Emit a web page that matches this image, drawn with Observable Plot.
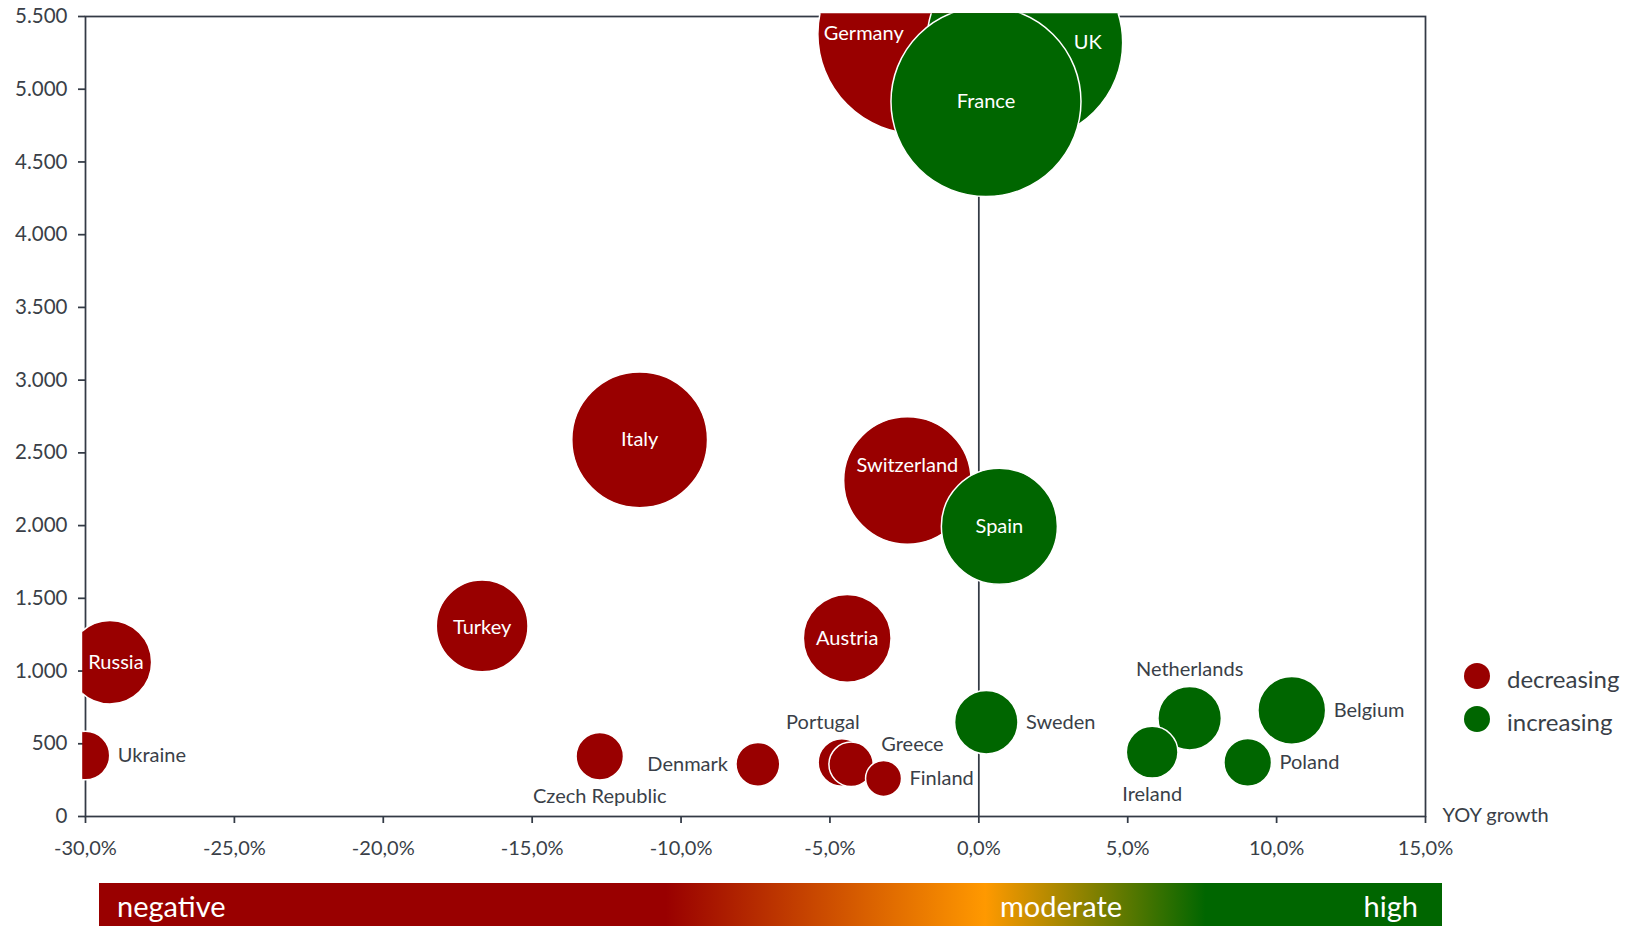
<!DOCTYPE html>
<html>
<head>
<meta charset="utf-8">
<script src="https://cdn.jsdelivr.net/npm/d3@7"></script>
<script src="https://cdn.jsdelivr.net/npm/@observablehq/plot@0.6"></script>
<style>
  html, body { margin: 0; padding: 0; background: #fff; }
  #wrap { position: relative; width: 1643px; height: 926px; overflow: hidden; font-family: Lato, "Open Sans", sans-serif; }
  #chart svg { display: block; }
  .legend { position: absolute; left: 1464px; top: 0; font-size: 24px; color: #3a3f48; }
  .legend .row { position: absolute; left: 0; display: flex; align-items: center; white-space: nowrap; height: 30px; }
  .legend .sw { width: 26px; height: 26px; border-radius: 50%; margin-right: 17px; flex: none; }
  .legend .lbl { position: relative; top: 2px; }
  #scalebar { position: absolute; left: 98.5px; top: 883px; width: 1343.5px; height: 43px; color: #fff; font-size: 29px; }
  #scalebar span { position: absolute; top: 50%; transform: translateY(-50%); line-height: 1; }
</style>
</head>
<body>
<div id="wrap">
  <div id="chart"></div>
  <div class="legend" id="legend"></div>
  <div id="scalebar"></div>
</div>
<script>
// ---- data ----
const countries = ["Germany", "UK", "France", "Italy", "Switzerland", "Spain", "Turkey", "Austria", "Russia",
  "Belgium", "Netherlands", "Sweden", "Ireland", "Ukraine", "Poland", "Czech Republic", "Portugal", "Greece", "Denmark", "Finland"];
// YOY growth in %
const growth = [-2.05, 1.54, 0.24, -11.39, -2.40, 0.69, -16.68, -4.42, -29.18,
  10.51, 7.08, 0.25, 5.82, -30.0, 9.03, -12.73, -4.60, -4.29, -7.42, -3.20];
// vertical value
const volume = [5380, 5320, 4915, 2590, 2310, 1995, 1310, 1225, 1060,
  730, 676, 648, 442, 419, 372, 414, 371, 359, 359, 262];
// bubble size value
const bubbleSize = [5400, 5190, 4880, 2490, 2195, 1820, 1137, 1040, 940,
  620, 545, 543, 361, 317, 306, 304, 304, 266, 259, 175];

const xTicks = [-30, -25, -20, -15, -10, -5, 0, 5, 10, 15];
const yTicks = [0, 500, 1000, 1500, 2000, 2500, 3000, 3500, 4000, 4500, 5000, 5500];
const trendLabels = ["decreasing", "increasing"];
const trendColors = ["#990000", "#006600"];
const scaleLabels = ["negative", "moderate", "high"];
const xLabel = "YOY growth";

// ---- layout / style ----
const axisColor = "#333a45";
const textColor = "#3a3f48";
const W = 1643, H = 883;
const M = { left: 85, right: 218, top: 16, bottom: 67 };
const rDomain = [0, 10000], rRange = [0, 136];
const rPx = d3.scaleSqrt(rDomain, rRange);

const labelLayout = {
  "Germany": { pos: "center", dx: -54 },
  "UK": { pos: "center", dx: 63 },
  "France": { pos: "center" },
  "Italy": { pos: "center" },
  "Switzerland": { pos: "center", dy: -15 },
  "Spain": { pos: "center" },
  "Turkey": { pos: "center", dy: 2 },
  "Austria": { pos: "center" },
  "Russia": { pos: "center", dx: 6 },
  "Belgium": { pos: "right" },
  "Netherlands": { pos: "above" },
  "Sweden": { pos: "right" },
  "Ireland": { pos: "below" },
  "Ukraine": { pos: "right" },
  "Poland": { pos: "right" },
  "Czech Republic": { pos: "below" },
  "Portugal": { pos: "above", dx: -19 },
  "Greece": { pos: "right", dy: -20 },
  "Denmark": { pos: "left" },
  "Finland": { pos: "right" }
};

const data = countries.map((c, i) => ({
  country: c, growth: growth[i], volume: volume[i], size: bubbleSize[i],
  trend: growth[i] < 0 ? trendLabels[0] : trendLabels[1]
}));

const fmtX = d => (d < 0 ? "-" : "") + Math.abs(d).toFixed(1).replace(".", ",") + "%";
const fmtY = d => d3.format(",")(d).replace(/,/g, ".");

const labelMarks = data.map(d => {
  const L = labelLayout[d.country] || { pos: "center" };
  const r = rPx(d.size);
  let dx = L.dx || 0, dy = L.dy || 0, anchor = "middle", fill = "#ffffff";
  if (L.pos === "right") { dx += r + 8; anchor = "start"; fill = textColor; }
  else if (L.pos === "left") { dx -= r + 8; anchor = "end"; fill = textColor; }
  else if (L.pos === "above") { dy -= r + 16.5; fill = textColor; }
  else if (L.pos === "below") { dy += r + 17; fill = textColor; }
  return Plot.text([d], { x: "growth", y: "volume", text: "country", dx, dy, textAnchor: anchor, fill, fontSize: 20 });
});

const chart = Plot.plot({
  width: W, height: H,
  marginLeft: M.left, marginRight: M.right, marginTop: M.top, marginBottom: M.bottom,
  x: { domain: [xTicks[0], xTicks[xTicks.length - 1]] },
  y: { domain: [yTicks[0], yTicks[yTicks.length - 1]] },
  r: { type: "sqrt", domain: rDomain, range: rRange },
  color: { domain: trendLabels, range: trendColors },
  style: { fontFamily: "Lato, 'Open Sans', sans-serif", color: textColor, background: "transparent", overflow: "visible" },
  marks: [
    Plot.frame({ stroke: axisColor, strokeWidth: 1.75 }),
    Plot.ruleX([0], { stroke: axisColor, strokeWidth: 1.75 }),
    Plot.axisX({ ticks: xTicks, tickSize: 7, tickPadding: 17, tickFormat: fmtX, fontSize: 20, label: null, stroke: axisColor, strokeWidth: 1.75 }),
    Plot.axisY({ ticks: yTicks, tickSize: 7, tickPadding: 11, tickFormat: fmtY, fontSize: 20.5, label: null, stroke: axisColor, strokeWidth: 1.75 }),
    Plot.dot(data, { x: "growth", y: "volume", r: "size", fill: "trend", stroke: "#ffffff", strokeWidth: 1.5 }),
    ...labelMarks,
    Plot.text([xLabel], { x: () => xTicks[xTicks.length - 1], y: () => yTicks[0], text: d => d, dx: 17, dy: -1, textAnchor: "start", fill: textColor, fontSize: 20 })
  ]
});

// clip bubbles to a region slightly larger than the frame
(function () {
  const ns = "http://www.w3.org/2000/svg";
  const defs = document.createElementNS(ns, "defs");
  const cp = document.createElementNS(ns, "clipPath");
  cp.setAttribute("id", "bubble-clip");
  const rect = document.createElementNS(ns, "rect");
  rect.setAttribute("x", M.left - 3.3);
  rect.setAttribute("y", M.top - 3.3);
  rect.setAttribute("width", W - M.left - M.right + 6.6);
  rect.setAttribute("height", H - M.top - M.bottom + 6.6);
  cp.appendChild(rect); defs.appendChild(cp);
  chart.insertBefore(defs, chart.firstChild);
  const g = chart.querySelector('g[aria-label="dot"]');
  if (g) g.setAttribute("clip-path", "url(#bubble-clip)");
})();

document.getElementById("chart").appendChild(chart);

// legend
const legend = document.getElementById("legend");
const legendTops = [661, 704];
trendLabels.forEach((t, i) => {
  const row = document.createElement("div");
  row.className = "row";
  row.style.top = legendTops[i] + "px";
  row.innerHTML = `<div class="sw" style="background:${trendColors[i]}"></div><span class="lbl">${t}</span>`;
  legend.appendChild(row);
});

// gradient scale bar
const bar = document.getElementById("scalebar");
bar.style.background = `linear-gradient(to right, ${trendColors[0]} 0%, ${trendColors[0]} 42.2%, #ff9900 66%, ${trendColors[1]} 82.4%, ${trendColors[1]} 100%)`;
const s0 = document.createElement("span"); s0.textContent = scaleLabels[0]; s0.style.left = "18.5px";
const s1 = document.createElement("span"); s1.textContent = scaleLabels[1]; s1.style.left = "962.5px"; s1.style.transform = "translate(-50%,-50%)";
const s2 = document.createElement("span"); s2.textContent = scaleLabels[2]; s2.style.right = "24px";
bar.append(s0, s1, s2);
</script>
</body>
</html>
